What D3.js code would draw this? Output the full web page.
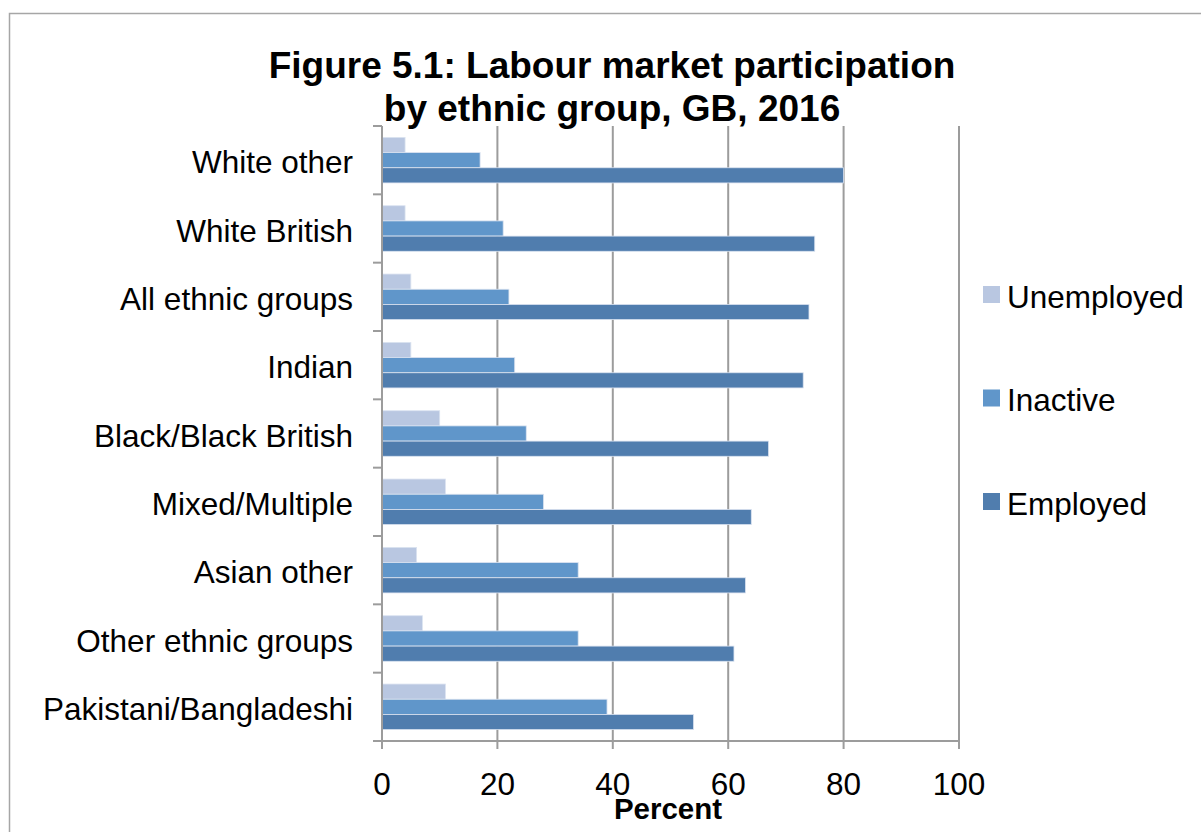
<!DOCTYPE html>
<html>
<head>
<meta charset="utf-8">
<script src="https://cdn.jsdelivr.net/npm/d3@7"></script>
<style>
  html, body { margin: 0; padding: 0; background: #fff; }
  svg { display: block; font-family: "Liberation Sans", Arial, sans-serif; }
</style>
</head>
<body>
<svg id="chart" width="1201" height="832"></svg>
<script>
const categories = ["White other", "White British", "All ethnic groups", "Indian",
  "Black/Black British", "Mixed/Multiple", "Asian other", "Other ethnic groups",
  "Pakistani/Bangladeshi"];
const seriesNames = ["Unemployed", "Inactive", "Employed"];
const unemployed = [4, 4, 5, 5, 10, 11, 6, 7, 11];
const inactive   = [17, 21, 22, 23, 25, 28, 34, 34, 39];
const employed   = [80, 75, 74, 73, 67, 64, 63, 61, 54];
const xTicks = [0, 20, 40, 60, 80, 100];
const titleLines = ["Figure 5.1: Labour market participation", "by ethnic group, GB, 2016"];
const xTitle = "Percent";

const colors = {Unemployed: "#B9C7E1", Inactive: "#6096CA", Employed: "#507DAE"};
const seriesVals = {Unemployed: unemployed, Inactive: inactive, Employed: employed};

const svg = d3.select("#chart");
const pLeft = 382, pRight = 959, pTop = 126, pBottom = 741;

// outer border
svg.append("rect").attr("x", 9.5).attr("y", 13.5).attr("width", 1300).attr("height", 1000)
  .attr("fill", "none").attr("stroke", "#a6a6a6").attr("stroke-width", 1.5);

const x = d3.scaleLinear().domain([0, 100]).range([pLeft, pRight]);
const y = d3.scaleBand().domain(categories).range([pTop, pBottom]).paddingInner(0).paddingOuter(0);
const inner = d3.scaleBand().domain(seriesNames).range([0, y.bandwidth()]).paddingOuter(0.75).paddingInner(0);

// gridlines
svg.append("g").selectAll("line").data(xTicks.filter(d => d > 0)).join("line")
  .attr("x1", d => x(d)).attr("x2", d => x(d)).attr("y1", pTop).attr("y2", pBottom)
  .attr("stroke", "#9c9c9c").attr("stroke-width", 2);

// bars
const groups = svg.append("g").selectAll("g").data(categories).join("g")
  .attr("transform", d => `translate(0,${y(d)})`);
groups.selectAll("rect").data((c, i) => seriesNames.map(s => ({s, v: seriesVals[s][i]}))).join("rect")
  .attr("x", x(0)).attr("y", d => inner(d.s))
  .attr("width", d => x(d.v) - x(0)).attr("height", inner.bandwidth())
  .attr("fill", d => colors[d.s]).attr("stroke", "#dbe3f0").attr("stroke-width", 0.8);

// y axis
const yAxisG = svg.append("g");
yAxisG.append("line").attr("x1", pLeft).attr("x2", pLeft).attr("y1", pTop).attr("y2", pBottom + 8)
  .attr("stroke", "#9c9c9c").attr("stroke-width", 2);
const bounds = categories.map(c => y(c)).concat([pBottom]);
yAxisG.selectAll("line.tk").data(bounds).join("line").attr("class", "tk")
  .attr("x1", pLeft - 9).attr("x2", pLeft).attr("y1", d => d).attr("y2", d => d)
  .attr("stroke", "#9c9c9c").attr("stroke-width", 2);
yAxisG.selectAll("text").data(categories).join("text")
  .attr("x", 353).attr("y", d => y(d) + y.bandwidth() / 2 + 13)
  .attr("text-anchor", "end").attr("font-size", 31.5).attr("fill", "#000").text(d => d);

// x axis
const xAxisG = svg.append("g");
xAxisG.append("line").attr("x1", pLeft - 9).attr("x2", pRight).attr("y1", pBottom).attr("y2", pBottom)
  .attr("stroke", "#9c9c9c").attr("stroke-width", 2);
xAxisG.selectAll("line.tk").data(xTicks).join("line").attr("class", "tk")
  .attr("x1", d => x(d)).attr("x2", d => x(d)).attr("y1", pBottom).attr("y2", pBottom + 8)
  .attr("stroke", "#9c9c9c").attr("stroke-width", 2);
xAxisG.selectAll("text").data(xTicks).join("text")
  .attr("x", d => x(d)).attr("y", 795)
  .attr("text-anchor", "middle").attr("font-size", 31.5).attr("fill", "#000").text(d => d);

svg.append("text").attr("x", 668).attr("y", 819).attr("text-anchor", "middle")
  .attr("font-size", 29.5).attr("font-weight", "bold").text(xTitle);

// title
svg.append("g").selectAll("text").data(titleLines).join("text")
  .attr("x", 612).attr("y", (d, i) => 78 + i * 42.5).attr("text-anchor", "middle")
  .attr("font-size", 37).attr("font-weight", "bold").text(d => d);

// legend
const legend = svg.append("g").selectAll("g").data(seriesNames).join("g")
  .attr("transform", (d, i) => `translate(983,${286 + i * 103.5})`);
legend.append("rect").attr("width", 17).attr("height", 17).attr("fill", d => colors[d]);
legend.append("text").attr("x", 24).attr("y", 21.5).attr("font-size", 31.5).text(d => d);
</script>
</body>
</html>
